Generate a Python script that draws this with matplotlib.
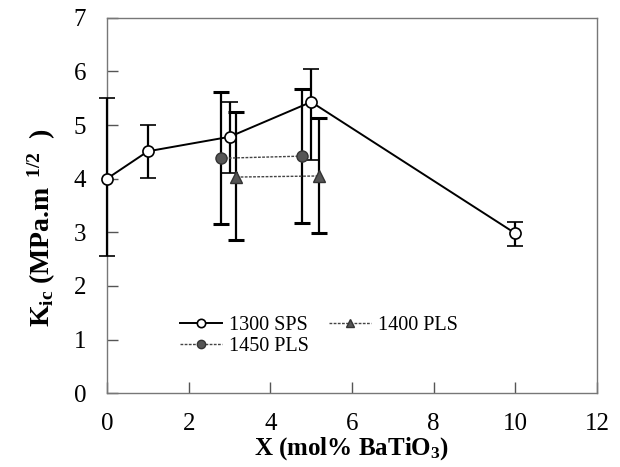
import matplotlib
matplotlib.use("Agg")
from matplotlib import pyplot as plt
from matplotlib.lines import Line2D

plt.rcParams['font.family'] = ['Liberation Serif', 'DejaVu Serif']
plt.rcParams['mathtext.fontset'] = 'custom'
plt.rcParams['mathtext.rm'] = 'Liberation Serif'
plt.rcParams['mathtext.bf'] = 'Liberation Serif:bold'
plt.rcParams['mathtext.it'] = 'Liberation Serif:italic'

# 1300 SPS
x_sps = [0, 1, 3, 5, 10]
y_sps = [4.0, 4.51, 4.78, 5.43, 2.98]
lo_sps = [2.55, 4.02, 4.11, 4.34, 2.75]
hi_sps = [5.5, 5.0, 5.42, 6.04, 3.19]

# 1450 PLS
x_1450 = [2.78, 4.77]
y_1450 = [4.38, 4.42]
lo_1450 = [3.16, 3.17]
hi_1450 = [5.62, 5.68]

# 1400 PLS
x_1400 = [3.17, 5.19]
y_1400 = [4.03, 4.05]
lo_1400 = [2.86, 2.99]
hi_1400 = [5.24, 5.14]


def err(y, lo, hi):
    return [[a - b for a, b in zip(y, lo)], [c - a for a, c in zip(y, hi)]]


fig = plt.figure(figsize=(6.2, 4.67), dpi=100)
ax = fig.add_axes([0.1726, 0.158, 0.7903, 0.804])

eb_kw = dict(ecolor='black', elinewidth=1.6, capsize=6, capthick=2.2)

sps_style = dict(color='black', lw=1.4, marker='o', ms=8, mfc='white', mec='black', mew=1.2)
s1450_style = dict(color='#444444', lw=1.0, ls=(0, (2, 1)), marker='o', ms=8,
                   mfc='#555555', mec='#333333')
s1400_style = dict(color='#444444', lw=1.0, ls=(0, (2, 1)), marker='^', ms=8,
                   mfc='#555555', mec='#333333')

ax.errorbar(x_sps, y_sps, yerr=err(y_sps, lo_sps, hi_sps), clip_on=False, zorder=3,
            **sps_style, **eb_kw)
ax.errorbar(x_1450, y_1450, yerr=err(y_1450, lo_1450, hi_1450), clip_on=False, zorder=3,
            **s1450_style, **eb_kw)
ax.errorbar(x_1400, y_1400, yerr=err(y_1400, lo_1400, hi_1400), clip_on=False, zorder=3,
            **s1400_style, **eb_kw)

ax.set_xlim(0, 12)
ax.set_ylim(0, 7)
ax.set_xticks(range(0, 13, 2))
ax.set_yticks(range(0, 8))
ax.tick_params(direction='in', length=8, width=1, labelsize=18, pad=14, color='#555555')
ax.tick_params(axis='y', pad=15)
for s in ax.spines.values():
    s.set_color('#777777')
    s.set_linewidth(1.0)

ax.set_xlabel(r'X (mol% BaTiO$_\mathbf{3}$)', fontsize=18, fontweight='bold', labelpad=0)
ax.set_ylabel(r'K$_\mathbf{ic}$ (MPa.m$^{\mathbf{\ \ 1/2}}$  )', fontsize=20, fontweight='bold')
ax.yaxis.set_label_coords(-0.1, 0.44)

sm = dict(ms=6)
handles = [Line2D([], [], **{**sps_style, **sm}),
           Line2D([], [], **{**s1450_style, **sm}),
           Line2D([], [], **{**s1400_style, **sm})]
labels = ['1300 SPS', '1450 PLS', '1400 PLS']
ax.legend(handles, labels, ncol=2, frameon=False, fontsize=14.5,
          loc='upper left', bbox_to_anchor=(0.148, 0.205), borderaxespad=0, borderpad=0,
          handlelength=2.1, handletextpad=0.35, columnspacing=1.0, labelspacing=0.1)

plt.savefig('out.png', dpi=100)
